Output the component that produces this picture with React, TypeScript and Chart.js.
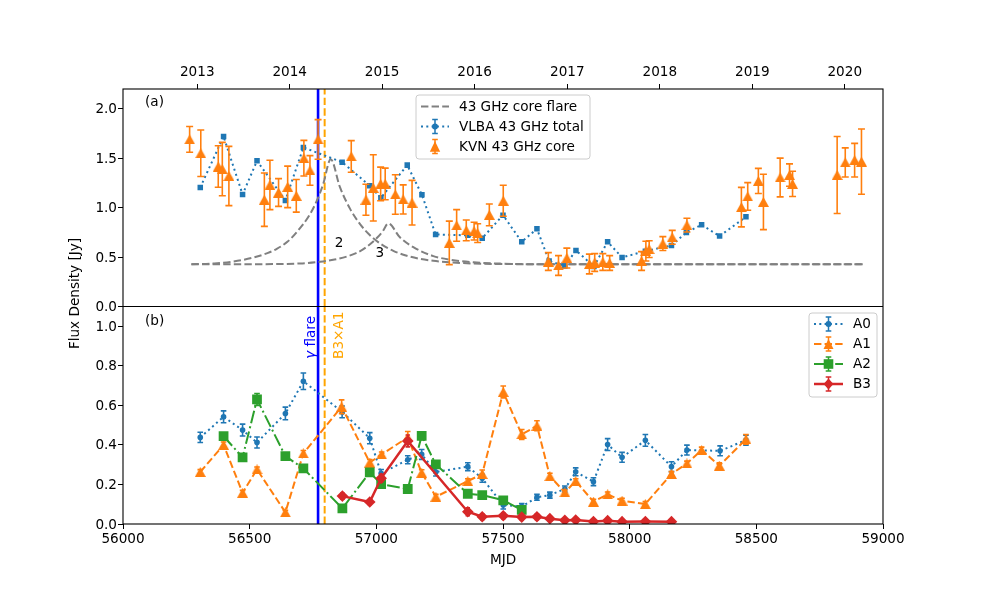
import { useEffect, useRef } from 'react';
import { Chart, registerables } from 'chart.js';

Chart.register(...registerables);

const FONT = '"DejaVu Sans"';
const BLUE = '#1f77b4';
const ORANGE = '#ff7f0e';
const GREEN = '#2ca02c';
const RED = '#d62728';
const GRAY = '#808080';

const xTicks = [56000, 56500, 57000, 57500, 58000, 58500, 59000];
const yearLabels = ['2013', '2014', '2015', '2016', '2017', '2018', '2019', '2020'];
const yearMjd = [56293, 56658, 57023, 57388, 57754, 58119, 58484, 58849];
const yTicksTop = [0, 0.5, 1, 1.5, 2];
const yTicksBottom = [0, 0.2, 0.4, 0.6, 0.8, 1];

const gammaFlareMjd = [56770, 56770];
const crossMjd = [56796, 56796];

const flare2X = [56270, 56360, 56435, 56515, 56570, 56607, 56650, 56685, 56735, 56765, 56790, 56820, 56856, 56896, 56935, 56975, 57015, 57067, 57120, 57172, 57225, 57291, 57384, 57488, 57700, 58200, 58920];
const flare2Y = [0.428, 0.436, 0.455, 0.495, 0.54, 0.583, 0.657, 0.75, 0.92, 1.07, 1.236, 1.49, 1.21, 0.99, 0.836, 0.72, 0.637, 0.563, 0.514, 0.482, 0.462, 0.447, 0.435, 0.43, 0.427, 0.427, 0.427];
const flare3X = [56270, 56500, 56700, 56778, 56835, 56883, 56920, 56949, 56975, 57001, 57025, 57047, 57093, 57146, 57225, 57291, 57384, 57488, 57700, 58200, 58920];
const flare3Y = [0.427, 0.428, 0.435, 0.452, 0.475, 0.505, 0.54, 0.58, 0.63, 0.69, 0.76, 0.84, 0.7, 0.6, 0.51, 0.474, 0.447, 0.434, 0.427, 0.427, 0.427];

const vlbaX = [56305, 56397, 56472, 56529, 56641, 56712, 56865, 56974, 57018, 57122, 57180, 57234, 57361, 57418, 57500, 57574, 57634, 57682, 57744, 57788, 57859, 57913, 57970, 58062, 58165, 58224, 58284, 58355, 58459];
const vlbaY = [1.204, 1.72, 1.133, 1.474, 1.073, 1.609, 1.46, 1.221, 1.1, 1.43, 1.13, 0.728, 0.72, 0.691, 0.924, 0.654, 0.786, 0.46, 0.41, 0.567, 0.405, 0.654, 0.496, 0.56, 0.617, 0.749, 0.826, 0.712, 0.907];
const vlbaErr = [0.01, 0.01, 0.01, 0.01, 0.01, 0.01, 0.01, 0.01, 0.01, 0.01, 0.01, 0.01, 0.01, 0.01, 0.01, 0.01, 0.01, 0.01, 0.01, 0.01, 0.01, 0.01, 0.01, 0.01, 0.01, 0.01, 0.01, 0.01, 0.01];

const kvnX = [56263, 56307, 56376, 56392, 56418, 56558, 56580, 56614, 56650, 56684, 56714, 56738, 56770, 56901, 56959, 56988, 57017, 57035, 57075, 57106, 57141, 57288, 57317, 57355, 57386, 57400, 57446, 57501, 57679, 57719, 57752, 57841, 57862, 57894, 57921, 58047, 58064, 58077, 58131, 58168, 58226, 58441, 58466, 58508, 58528, 58594, 58631, 58643, 58819, 58851, 58888, 58915];
const kvnY = [1.69, 1.55, 1.416, 1.39, 1.32, 1.08, 1.23, 1.153, 1.21, 1.12, 1.5, 1.376, 1.69, 1.518, 1.08, 1.2, 1.24, 1.24, 1.133, 1.083, 1.05, 0.644, 0.82, 0.77, 0.762, 0.742, 0.927, 1.07, 0.455, 0.415, 0.49, 0.43, 0.445, 0.45, 0.44, 0.46, 0.56, 0.58, 0.637, 0.7, 0.823, 1.005, 1.113, 1.27, 1.058, 1.305, 1.33, 1.24, 1.33, 1.457, 1.48, 1.466];
const kvnErr = [0.13, 0.235, 0.21, 0.27, 0.3, 0.27, 0.25, 0.14, 0.21, 0.165, 0.18, 0.15, 0.2, 0.16, 0.157, 0.335, 0.17, 0.16, 0.2, 0.147, 0.226, 0.22, 0.16, 0.105, 0.09, 0.095, 0.11, 0.157, 0.09, 0.1, 0.1, 0.1, 0.09, 0.085, 0.075, 0.095, 0.1, 0.085, 0.07, 0.07, 0.07, 0.2, 0.14, 0.127, 0.28, 0.196, 0.113, 0.128, 0.39, 0.147, 0.17, 0.33];

const a0X = [56305, 56397, 56472, 56529, 56641, 56712, 56865, 56974, 57019, 57124, 57179, 57235, 57361, 57418, 57501, 57574, 57634, 57685, 57744, 57787, 57857, 57913, 57970, 58062, 58165, 58226, 58357, 58459];
const a0Y = [0.438, 0.542, 0.475, 0.412, 0.559, 0.722, 0.567, 0.434, 0.256, 0.325, 0.352, 0.263, 0.29, 0.231, 0.096, 0.088, 0.135, 0.146, 0.177, 0.264, 0.214, 0.402, 0.337, 0.423, 0.29, 0.374, 0.37, 0.424];
const a0Err = [0.026, 0.03, 0.03, 0.028, 0.032, 0.042, 0.03, 0.028, 0.02, 0.02, 0.025, 0.02, 0.02, 0.02, 0.02, 0.015, 0.015, 0.015, 0.015, 0.02, 0.02, 0.03, 0.025, 0.03, 0.025, 0.025, 0.025, 0.025];

const a1X = [56305, 56397, 56472, 56529, 56641, 56712, 56863, 56974, 57021, 57124, 57179, 57235, 57361, 57418, 57501, 57574, 57634, 57685, 57744, 57787, 57857, 57913, 57970, 58062, 58165, 58226, 58284, 58354, 58459];
const a1Y = [0.263, 0.4, 0.158, 0.276, 0.059, 0.357, 0.593, 0.311, 0.352, 0.438, 0.259, 0.138, 0.217, 0.253, 0.668, 0.453, 0.497, 0.242, 0.16, 0.217, 0.113, 0.15, 0.118, 0.101, 0.253, 0.306, 0.374, 0.295, 0.428];
const a1Err = [0.012, 0.015, 0.012, 0.012, 0.01, 0.015, 0.035, 0.015, 0.012, 0.03, 0.015, 0.012, 0.012, 0.02, 0.03, 0.025, 0.025, 0.015, 0.012, 0.012, 0.012, 0.012, 0.012, 0.012, 0.012, 0.012, 0.015, 0.015, 0.025];

const a2X = [56397, 56472, 56529, 56641, 56712, 56866, 56974, 57019, 57124, 57179, 57235, 57361, 57418, 57501, 57574];
const a2Y = [0.444, 0.337, 0.63, 0.343, 0.281, 0.079, 0.261, 0.202, 0.177, 0.446, 0.301, 0.153, 0.146, 0.12, 0.071];
const a2Err = [0.015, 0.012, 0.03, 0.012, 0.012, 0.012, 0.012, 0.012, 0.012, 0.02, 0.012, 0.012, 0.012, 0.012, 0.012];

const b3X = [56866, 56974, 57019, 57124, 57361, 57418, 57501, 57574, 57634, 57685, 57744, 57787, 57857, 57913, 57970, 58062, 58165];
const b3Y = [0.141, 0.111, 0.231, 0.42, 0.062, 0.037, 0.042, 0.035, 0.037, 0.027, 0.019, 0.02, 0.013, 0.017, 0.012, 0.013, 0.012];
const b3Err = [0.015, 0.012, 0.02, 0.03, 0.02, 0.015, 0.015, 0.015, 0.015, 0.012, 0.008, 0.01, 0.005, 0.008, 0.005, 0.005, 0.005];

const topLegend = ['43 GHz core flare', 'VLBA 43 GHz total', 'KVN 43 GHz core'];
const bottomLegend = ['A0', 'A1', 'A2', 'B3'];

const DOTTED = [2, 3.3];
const DASHED = [7.4, 3.2];
const DASHDOT = [12.8, 3.2, 2, 3.2];

// triangle centred on its bounding box, the way matplotlib places '^'
function triangleMarker(w: number, h: number, color: string) {
  const c = document.createElement('canvas');
  c.width = w;
  c.height = h;
  const g = c.getContext('2d')!;
  g.fillStyle = color;
  g.beginPath();
  g.moveTo(w / 2, 0);
  g.lineTo(w, h);
  g.lineTo(0, h);
  g.closePath();
  g.fill();
  return c;
}

const pts = (xs: number[], ys: number[]) => xs.map((x, i) => ({ x, y: ys[i] }));

const vlineDs = (xs: number[], yAxisID: string, ymax: number, color: string, width: number, dash: number[], order: number) => ({
  data: pts(xs, [0, ymax]),
  yAxisID,
  xAxisID: 'x',
  borderColor: color,
  borderWidth: width,
  borderDash: dash,
  pointRadius: 0,
  clip: 0,
  order,
});

function drawMarker(ctx: CanvasRenderingContext2D, kind: string, x: number, y: number, r: number, color: string) {
  ctx.fillStyle = color;
  ctx.beginPath();
  if (kind === 'tri') {
    ctx.moveTo(x, y - r);
    ctx.lineTo(x + r, y + r);
    ctx.lineTo(x - r, y + r);
  } else if (kind === 'square') {
    ctx.rect(x - r, y - r, 2 * r, 2 * r);
  } else if (kind === 'diamond') {
    ctx.moveTo(x, y - r);
    ctx.lineTo(x + r * 0.9, y);
    ctx.lineTo(x, y + r);
    ctx.lineTo(x - r * 0.9, y);
  } else {
    ctx.arc(x, y, r, 0, Math.PI * 2);
  }
  ctx.closePath();
  ctx.fill();
}

type LegendRow = { label: string; color: string; dash: number[] | null; lw: number; marker?: string; r?: number; err?: boolean };

function drawLegend(ctx: CanvasRenderingContext2D, box: number[], rows: LegendRow[], rowYs: number[], hx: number[], tx: number) {
  const [l, t, r, b] = box;
  ctx.save();
  ctx.fillStyle = 'rgba(255,255,255,0.8)';
  ctx.strokeStyle = '#cccccc';
  ctx.lineWidth = 1;
  ctx.beginPath();
  ctx.roundRect(l, t, r - l, b - t, 3);
  ctx.fill();
  ctx.stroke();
  rows.forEach((row, i) => {
    const y = rowYs[i];
    if (row.dash) {
      ctx.strokeStyle = row.color;
      ctx.lineWidth = row.lw;
      ctx.setLineDash(row.dash);
      ctx.beginPath();
      ctx.moveTo(hx[0], y);
      ctx.lineTo(hx[1], y);
      ctx.stroke();
      ctx.setLineDash([]);
    }
    const mid = (hx[0] + hx[1]) / 2;
    if (row.err) {
      ctx.strokeStyle = row.color;
      ctx.lineWidth = 1.5;
      ctx.beginPath();
      ctx.moveTo(mid, y - 7);
      ctx.lineTo(mid, y + 7);
      ctx.moveTo(mid - 2.8, y - 7);
      ctx.lineTo(mid + 2.8, y - 7);
      ctx.moveTo(mid - 2.8, y + 7);
      ctx.lineTo(mid + 2.8, y + 7);
      ctx.stroke();
    }
    if (row.marker) drawMarker(ctx, row.marker, mid, y, row.r ?? 3, row.color);
    ctx.fillStyle = '#000';
    ctx.font = `13.6px ${FONT}`;
    ctx.textAlign = 'left';
    ctx.textBaseline = 'middle';
    ctx.fillText(row.label, tx, y + 0.5);
  });
  ctx.restore();
}

const errorBars = {
  id: 'errorBars',
  beforeDatasetDraw(chart: any, args: any) {
    const ds = chart.data.datasets[args.index];
    if (!ds.errs) return;
    const { ctx } = chart;
    const xs = chart.scales.x;
    const ys = chart.scales[ds.yAxisID];
    const cap = ds.capHalf ?? 2.8;
    ctx.save();
    ctx.beginPath();
    ctx.rect(xs.left, ys.top, xs.width, ys.height);
    ctx.clip();
    ctx.strokeStyle = ds.borderColor;
    ctx.lineWidth = 1.6;
    ds.data.forEach((p: any, i: number) => {
      const px = xs.getPixelForValue(p.x);
      const hi = ys.getPixelForValue(p.y + ds.errs[i]);
      const lo = ys.getPixelForValue(p.y - ds.errs[i]);
      ctx.beginPath();
      ctx.moveTo(px, hi);
      ctx.lineTo(px, lo);
      ctx.moveTo(px - cap, hi);
      ctx.lineTo(px + cap, hi);
      ctx.moveTo(px - cap, lo);
      ctx.lineTo(px + cap, lo);
      ctx.stroke();
    });
    ctx.restore();
  },
};

const overlay = {
  id: 'overlay',
  afterDraw(chart: any) {
    const { ctx, chartArea: a, scales } = chart;
    const { x, yTop, yBottom } = scales;
    ctx.save();
    // frame of both panels
    ctx.strokeStyle = '#000';
    ctx.lineWidth = 1.1;
    ctx.strokeRect(a.left, a.top, a.right - a.left, a.bottom - a.top);
    ctx.beginPath();
    ctx.moveTo(a.left, yTop.bottom);
    ctx.lineTo(a.right, yTop.bottom);
    ctx.stroke();

    ctx.fillStyle = '#000';
    ctx.font = `13.6px ${FONT}`;
    ctx.textBaseline = 'middle';
    ctx.textAlign = 'left';
    ctx.fillText('(a)', x.getPixelForValue(56087), yTop.getPixelForValue(2.06));
    ctx.fillText('(b)', x.getPixelForValue(56087), yBottom.getPixelForValue(1.025));
    ctx.textAlign = 'center';
    ctx.fillText('2', x.getPixelForValue(56853), yTop.getPixelForValue(0.637));
    ctx.fillText('3', x.getPixelForValue(57014), yTop.getPixelForValue(0.536));

    // y title is shared by the two panels
    ctx.save();
    ctx.translate(75, 293.5);
    ctx.rotate(-Math.PI / 2);
    ctx.fillText('Flux Density [Jy]', 0, 0);
    ctx.restore();

    // rotated flare labels
    const base = yBottom.getPixelForValue(0.835);
    ctx.save();
    ctx.translate(x.getPixelForValue(56745), base);
    ctx.rotate(-Math.PI / 2);
    ctx.textAlign = 'left';
    ctx.fillStyle = '#0000ff';
    ctx.font = `italic 13.6px ${FONT}`;
    ctx.fillText('γ', 0, 0);
    const w = ctx.measureText('γ').width;
    ctx.font = `13.6px ${FONT}`;
    ctx.fillText(' flare', w, 0);
    ctx.restore();
    ctx.save();
    ctx.translate(x.getPixelForValue(56853), base);
    ctx.rotate(-Math.PI / 2);
    ctx.textAlign = 'left';
    ctx.fillStyle = '#ffa500';
    ctx.fillText('B3×A1', 0, 0);
    ctx.restore();

    drawLegend(ctx, [416, 95, 590, 159], [
      { label: topLegend[0], color: GRAY, dash: DASHED, lw: 2 },
      { label: topLegend[1], color: BLUE, dash: DOTTED, lw: 2, marker: 'circle', r: 3, err: true },
      { label: topLegend[2], color: ORANGE, dash: null, lw: 2, marker: 'tri', r: 5.2, err: true },
    ], [106.5, 126.5, 146.5], [421, 449], 459);
    drawLegend(ctx, [809, 313, 877, 397], [
      { label: bottomLegend[0], color: BLUE, dash: DOTTED, lw: 2, marker: 'circle', r: 3, err: true },
      { label: bottomLegend[1], color: ORANGE, dash: DASHED, lw: 2, marker: 'tri', r: 5, err: true },
      { label: bottomLegend[2], color: GREEN, dash: DASHDOT, lw: 2, marker: 'square', r: 4.8, err: true },
      { label: bottomLegend[3], color: RED, dash: [], lw: 2.5, marker: 'diamond', r: 5.5, err: true },
    ], [324, 344, 364, 384], [814, 843], 853);
    ctx.restore();
  },
};

const tickFont = { family: FONT, size: 13.6 };
const tickGrid = { drawOnChartArea: false, drawTicks: true, tickLength: 5, tickColor: '#000', lineWidth: 1 };

export default function App() {
  const chartRef = useRef<HTMLCanvasElement | null>(null);

  useEffect(() => {
    if (!chartRef.current) return;
    const ctx = chartRef.current.getContext('2d');
    if (!ctx) return;

    const triOrange = triangleMarker(11, 10, ORANGE);

    const chartInstance = new Chart(ctx, {
      type: 'line',
      data: {
        datasets: [
          vlineDs(gammaFlareMjd, 'yTop', 2.2, '#0000ff', 2.6, [], 20),
          vlineDs(crossMjd, 'yTop', 2.2, '#ffa500', 2, DASHED, 19),
          vlineDs(gammaFlareMjd, 'yBottom', 1.1, '#0000ff', 2.6, [], 18),
          vlineDs(crossMjd, 'yBottom', 1.1, '#ffa500', 2, DASHED, 17),
          { label: 'flare 2', data: pts(flare2X, flare2Y), yAxisID: 'yTop', borderColor: GRAY, borderWidth: 2, borderDash: DASHED, pointRadius: 0, cubicInterpolationMode: 'monotone', order: 16 },
          { label: 'flare 3', data: pts(flare3X, flare3Y), yAxisID: 'yTop', borderColor: GRAY, borderWidth: 2, borderDash: DASHED, pointRadius: 0, cubicInterpolationMode: 'monotone', order: 15 },
          { label: topLegend[1], data: pts(vlbaX, vlbaY), errs: vlbaErr, capHalf: 2, yAxisID: 'yTop', borderColor: BLUE, backgroundColor: BLUE, borderWidth: 2, borderDash: DOTTED, pointStyle: 'rect', pointRadius: 3.9, pointBorderWidth: 0, order: 14 },
          { label: topLegend[2], data: pts(kvnX, kvnY), errs: kvnErr, capHalf: 3.5, yAxisID: 'yTop', borderColor: ORANGE, backgroundColor: ORANGE, showLine: false, pointStyle: triOrange, pointRadius: 5, order: 13 },
          { label: 'A0', data: pts(a0X, a0Y), errs: a0Err, yAxisID: 'yBottom', borderColor: BLUE, backgroundColor: BLUE, borderWidth: 2, borderDash: DOTTED, pointStyle: 'circle', pointRadius: 2.8, pointBorderWidth: 0, clip: 0, order: 12 },
          { label: 'A1', data: pts(a1X, a1Y), errs: a1Err, yAxisID: 'yBottom', borderColor: ORANGE, backgroundColor: ORANGE, borderWidth: 2, borderDash: DASHED, pointStyle: triOrange, pointRadius: 5, clip: 0, order: 11 },
          { label: 'A2', data: pts(a2X, a2Y), errs: a2Err, yAxisID: 'yBottom', borderColor: GREEN, backgroundColor: GREEN, borderWidth: 2, borderDash: DASHDOT, pointStyle: 'rect', pointRadius: 6.9, pointBorderWidth: 0, clip: 0, order: 10 },
          { label: 'B3', data: pts(b3X, b3Y), errs: b3Err, capHalf: 2.2, yAxisID: 'yBottom', borderColor: RED, backgroundColor: RED, borderWidth: 2.5, pointStyle: 'rectRot', pointRadius: 5.8, pointBorderWidth: 0, clip: 0, order: 9 },
        ] as any,
      },
      options: {
        responsive: false,
        animation: false,
        parsing: false as any,
        layout: { padding: { left: 0, right: 98, top: 0, bottom: 20 } },
        plugins: { legend: { display: false }, tooltip: { enabled: false } },
        scales: {
          x: {
            type: 'linear',
            position: 'bottom',
            min: 56000,
            max: 59000,
            afterBuildTicks: (s: any) => { s.ticks = xTicks.map((value) => ({ value })); },
            afterFit: (s: any) => { s.height = 45; },
            ticks: { font: tickFont, color: '#000', maxRotation: 0, autoSkip: false, padding: 2, callback: (v: any) => String(v) },
            grid: tickGrid,
            border: { display: false },
            title: { display: true, text: 'MJD', font: tickFont, color: '#000', padding: 0 },
          },
          xTop: {
            type: 'linear',
            position: 'top',
            min: 56000,
            max: 59000,
            afterBuildTicks: (s: any) => { s.ticks = yearMjd.map((value) => ({ value })); },
            afterFit: (s: any) => { s.height = 89; },
            ticks: { font: tickFont, color: '#000', maxRotation: 0, autoSkip: false, padding: 3, callback: (v: any) => yearLabels[yearMjd.indexOf(v)] },
            grid: tickGrid,
            border: { display: false },
          },
          yTop: {
            type: 'linear',
            position: 'left',
            stack: 'panels',
            stackWeight: 1,
            weight: 2,
            min: 0,
            max: 2.2,
            afterBuildTicks: (s: any) => { s.ticks = yTicksTop.map((value) => ({ value })); },
            afterFit: (s: any) => { s.width = 123; },
            ticks: { font: tickFont, color: '#000', padding: 1, labelOffset: 1, autoSkip: false, callback: (v: any) => Number(v).toFixed(1) },
            grid: tickGrid,
            border: { display: false },
          },
          yBottom: {
            type: 'linear',
            position: 'left',
            stack: 'panels',
            stackWeight: 1,
            weight: 1,
            min: 0,
            max: 1.1,
            afterBuildTicks: (s: any) => { s.ticks = yTicksBottom.map((value) => ({ value })); },
            afterFit: (s: any) => { s.width = 123; },
            ticks: { font: tickFont, color: '#000', padding: 1, labelOffset: 1, autoSkip: false, callback: (v: any) => Number(v).toFixed(1) },
            grid: tickGrid,
            border: { display: false },
          },
        },
      },
      plugins: [errorBars, overlay],
    } as any);

    return () => {
      chartInstance.destroy();
    };
  }, []);

  return (
    <div style={{ position: 'absolute', left: 0, top: 0, width: 981, height: 589, background: '#fff' }}>
      <canvas ref={chartRef} width={981} height={589} style={{ display: 'block' }}></canvas>
    </div>
  );
}
